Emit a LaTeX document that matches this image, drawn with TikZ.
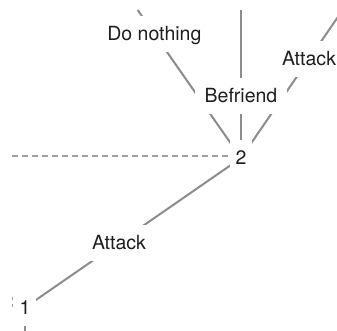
\documentclass[tikz,border=0pt]{standalone}
\usepackage{fontspec}
\setmainfont{TeX Gyre Heros}
\usetikzlibrary{backgrounds}
\definecolor{edgegray}{HTML}{8C8C8C}
\definecolor{dashgray}{HTML}{A0A0A0}
\definecolor{ink}{HTML}{1E1E1E}
\begin{document}
\begin{tikzpicture}[x=1pt,y=-1pt,
  lbl/.style={fill=white, text=ink, font=\fontsize{19.5}{22}\selectfont,
    inner xsep=9.5pt, inner ysep=9pt, text height=16pt, text depth=2pt},
  state/.style={lbl, inner xsep=5.5pt},
  edge/.style={draw=edgegray, line width=2pt},
  infoset/.style={draw=dashgray, line width=1.1pt, dash pattern=on 6pt off 4pt}]
\useasboundingbox (0,0) rectangle (337,331);
% nodes
\node[state] (n2) at (241,158) {2};
\node[state] (n1) at (25,307.5) {1};
\node[lbl] (bef) at (241,96) {Befriend};
\node[lbl] (dn) at (154.4,34) {Do nothing};
\node[lbl] (atk2) at (309,59) {Attack};
\node[lbl] (atk1) at (119,242.5) {Attack};
% far ends
\coordinate (topL) at (137.7,10);
\coordinate (topM) at (241,10);
\coordinate (topR) at (342.7,10);
\coordinate (belowone) at (25,345);
\coordinate (dashL) at (12,156);
\coordinate (markA) at (12.5,297);
\begin{pgfonlayer}{background}
  \fill[white] (0,0) rectangle (337,331);
  \draw[edge] (n2.center) -- (dn.center) -- (topL);
  \draw[edge] (n2.center) -- (bef.center) -- (topM);
  \draw[edge] (n2.center) -- (atk2.center) -- (topR);
  \draw[edge] (n1.center) -- (atk1.center) -- (n2.center);
  \draw[edge] (n1.center) -- (belowone);
  \draw[infoset] (dashL) -- (dashL -| n2.west);
  \draw[infoset, dash pattern=on 3pt off 4pt] (markA) -- ++(0,10);
\end{pgfonlayer}
\end{tikzpicture}
\end{document}
